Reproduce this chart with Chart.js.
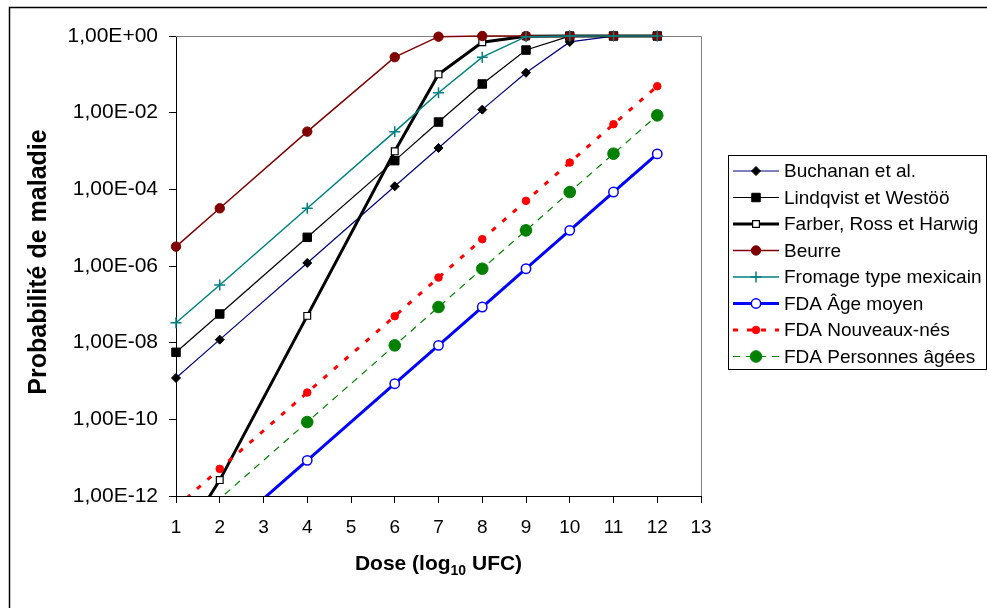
<!DOCTYPE html>
<html lang="fr">
<head>
  <meta charset="UTF-8">
  <title>Probabilité de maladie</title>
  <script src="https://cdn.jsdelivr.net/npm/chart.js"></script>
  <style>
    html, body {
      margin: 0;
      padding: 0;
      background: #fff;
    }
    .chart-container {
      position: relative;
      width: 987px;
      height: 608px;
    }
  </style>
</head>
<body>
  <div class="chart-container"><canvas id="chart"></canvas></div>

  <script>
    // doses (log10 UFC) where each model was evaluated
    const doses = [1, 2, 4, 6, 7, 8, 9, 10, 11, 12];

    const buchanan   = [1.2e-9, 1.2e-8, 1.2e-6, 1.2e-4, 1.2e-3, 1.2e-2, 0.11, 0.70, 0.99, 1];
    const lindqvist  = [5.6e-9, 5.6e-8, 5.6e-6, 5.6e-4, 5.7e-3, 0.056, 0.43, 0.996, 1, 1];
    const farber     = [4e-14, 2.6e-12, 5.0e-8, 9.8e-4, 0.10, 0.69, 0.99, 1, 1, 1];
    const beurre     = [3.2e-6, 3.2e-5, 3.2e-3, 0.28, 0.96, 1, 1, 1, 1, 1];
    const fromage    = [3.3e-8, 3.2e-7, 3.2e-5, 3.2e-3, 0.033, 0.28, 0.96, 1, 1, 1];
    const fdaMoyen   = [8.5e-15, 8.5e-14, 8.5e-12, 8.5e-10, 8.5e-9, 8.5e-8, 8.5e-7, 8.5e-6, 8.5e-5, 8.4e-4];
    const fdaNouveau = [5e-13, 5.1e-12, 5.0e-10, 4.9e-8, 5.0e-7, 5.0e-6, 5.0e-5, 5.0e-4, 5.0e-3, 0.049];
    const fdaAgees   = [8.5e-14, 8.5e-13, 8.5e-11, 8.5e-9, 8.5e-8, 8.5e-7, 8.5e-6, 8.5e-5, 8.5e-4, 8.5e-3];

    const seriesNames = [
      'Buchanan et al.',
      'Lindqvist et Westöö',
      'Farber, Ross et Harwig',
      'Beurre',
      'Fromage type mexicain',
      'FDA Âge moyen',
      'FDA Nouveaux-nés',
      'FDA Personnes âgées'
    ];
    const seriesValues = [buchanan, lindqvist, farber, beurre, fromage, fdaMoyen, fdaNouveau, fdaAgees];

    const yTickValues = [1e-12, 1e-10, 1e-8, 1e-6, 1e-4, 1e-2, 1];
    const xMin = 1, xMax = 13;

    // look of each series (Excel-like)
    const looks = [
      { line: '#000080', lw: 1.2, dash: [],     style: 'rectRot', r: 4.5, fill: '#000',    edge: '#000',    bw: 1 },
      { line: '#000000', lw: 1.2, dash: [],     style: 'rect',    r: 6,   fill: '#000',    edge: '#000',    bw: 1 },
      { line: '#000000', lw: 3,   dash: [],     style: 'rect',    r: 4.8, fill: '#fff',    edge: '#000',    bw: 1.2 },
      { line: '#800000', lw: 1.5, dash: [],     style: 'circle',  r: 4.7, fill: '#800000', edge: '#800000', bw: 1 },
      { line: '#008080', lw: 1.5, dash: [],     style: 'cross',   r: 5.5, fill: '#008080', edge: '#008080', bw: 1.5 },
      { line: '#0000ff', lw: 3,   dash: [],     style: 'circle',  r: 4.7, fill: '#fff',    edge: '#0000ff', bw: 1.5 },
      { line: '#ff0000', lw: 3,   dash: [5, 9], style: 'circle',  r: 3.8, fill: '#ff0000', edge: '#ff0000', bw: 1 },
      { line: '#008000', lw: 1.2, dash: [7, 6], style: 'circle',  r: 5.8, fill: '#008000', edge: '#008000', bw: 1 }
    ];

    const FONT = "'Liberation Sans', Arial, sans-serif";

    function sciLabel(v) {
      const e = Math.round(Math.log10(v));
      return '1,00E' + (e < 0 ? '-' : '+') + String(Math.abs(e)).padStart(2, '0');
    }

    function drawMarker(ctx, look, x, y) {
      const r = look.r;
      ctx.save();
      ctx.setLineDash([]);
      ctx.lineWidth = look.bw;
      ctx.strokeStyle = look.edge;
      ctx.fillStyle = look.fill;
      ctx.beginPath();
      if (look.style === 'circle') {
        ctx.arc(x, y, r, 0, Math.PI * 2);
        ctx.fill();
        ctx.stroke();
      } else if (look.style === 'rect') {
        const s = r * Math.SQRT1_2;
        ctx.rect(x - s, y - s, 2 * s, 2 * s);
        ctx.fill();
        ctx.stroke();
      } else if (look.style === 'rectRot') {
        ctx.moveTo(x - r, y);
        ctx.lineTo(x, y - r);
        ctx.lineTo(x + r, y);
        ctx.lineTo(x, y + r);
        ctx.closePath();
        ctx.fill();
        ctx.stroke();
      } else if (look.style === 'cross') {
        ctx.moveTo(x - r, y);
        ctx.lineTo(x + r, y);
        ctx.moveTo(x, y - r);
        ctx.lineTo(x, y + r);
        ctx.stroke();
      }
      ctx.restore();
    }

    // gray plot frame + black outer chart border
    const framePlugin = {
      id: 'frame',
      beforeDatasetsDraw(chart) {
        const { ctx, chartArea: a } = chart;
        ctx.save();
        ctx.strokeStyle = '#808080';
        ctx.lineWidth = 1;
        ctx.beginPath();
        ctx.moveTo(a.left, a.top + 0.5);
        ctx.lineTo(a.right + 0.5, a.top + 0.5);
        ctx.lineTo(a.right + 0.5, a.bottom);
        ctx.stroke();
        ctx.restore();
      },
      afterDraw(chart) {
        const ctx = chart.ctx;
        ctx.save();
        ctx.strokeStyle = '#000';
        ctx.lineWidth = 1.5;
        ctx.strokeRect(9.5, 7.5, 1000, 700);
        ctx.restore();
      }
    };

    // axis titles (x title needs a subscript)
    const titlesPlugin = {
      id: 'titles',
      afterDraw(chart) {
        const { ctx, chartArea: a } = chart;
        ctx.save();
        ctx.fillStyle = '#000';
        ctx.font = 'bold 25px ' + FONT;
        ctx.textAlign = 'center';
        ctx.textBaseline = 'middle';
        ctx.translate(39, 262);
        ctx.rotate(-Math.PI / 2);
        ctx.fillText('Probabilité de maladie', 0, 0);
        ctx.restore();

        const parts = [
          { t: 'Dose (log', size: 21, dy: 0 },
          { t: '10', size: 14, dy: 5 },
          { t: ' UFC)', size: 21, dy: 0 }
        ];
        ctx.save();
        ctx.fillStyle = '#000';
        ctx.textAlign = 'left';
        ctx.textBaseline = 'alphabetic';
        let total = 0;
        parts.forEach(p => {
          ctx.font = 'bold ' + p.size + 'px ' + FONT;
          p.w = ctx.measureText(p.t).width;
          total += p.w;
        });
        let x = (a.left + a.right) / 2 - total / 2;
        const base = 570;
        parts.forEach(p => {
          ctx.font = 'bold ' + p.size + 'px ' + FONT;
          ctx.fillText(p.t, x, base + p.dy);
          x += p.w;
        });
        ctx.restore();
      }
    };

    // boxed legend with line + marker samples
    const legendPlugin = {
      id: 'boxLegend',
      afterDraw(chart) {
        const ctx = chart.ctx;
        ctx.save();
        ctx.strokeStyle = '#000';
        ctx.lineWidth = 1;
        ctx.strokeRect(728.5, 155.5, 258, 214);
        ctx.font = '19px ' + FONT;
        ctx.textAlign = 'left';
        ctx.textBaseline = 'middle';
        seriesNames.forEach((name, i) => {
          const look = looks[i];
          const y = 171 + i * 26.5;
          ctx.save();
          ctx.strokeStyle = look.line;
          ctx.lineWidth = look.lw;
          ctx.setLineDash(look.dash);
          ctx.beginPath();
          ctx.moveTo(733, y);
          ctx.lineTo(779, y);
          ctx.stroke();
          ctx.restore();
          drawMarker(ctx, look, 756, y);
          ctx.fillStyle = '#000';
          ctx.fillText(name, 784, y + 1);
        });
        ctx.restore();
      }
    };

    const datasets = seriesValues.map((vals, i) => {
      const look = looks[i];
      return {
        label: seriesNames[i],
        data: doses.map((d, k) => ({ x: d, y: vals[k] })),
        borderColor: look.line,
        borderWidth: look.lw,
        borderDash: look.dash,
        pointStyle: look.style,
        pointRadius: c => (c.raw && c.raw.y < yTickValues[0] ? 0 : look.r),
        pointBackgroundColor: look.fill,
        pointBorderColor: look.edge,
        pointBorderWidth: look.bw,
        tension: 0,
        fill: false,
        order: 10 - i,
        clip: { left: 10, top: 10, right: 10, bottom: 0 }
      };
    });

    new Chart(document.getElementById('chart').getContext('2d'), {
      type: 'line',
      data: { datasets },
      options: {
        responsive: true,
        maintainAspectRatio: false,
        animation: false,
        events: [],
        layout: { padding: { left: 0, top: 36, right: 286, bottom: 0 } },
        plugins: {
          legend: { display: false },
          tooltip: { enabled: false },
          title: { display: false }
        },
        scales: {
          x: {
            type: 'linear',
            min: xMin,
            max: xMax,
            afterFit: s => { s.height = 112; },
            ticks: {
              stepSize: 1,
              autoSkip: false,
              maxRotation: 0,
              padding: 13,
              color: '#000',
              font: { size: 19, family: FONT }
            },
            grid: { drawOnChartArea: false, drawTicks: true, tickLength: 7, color: '#000' },
            border: { display: true, color: '#000', width: 1 }
          },
          y: {
            type: 'logarithmic',
            min: yTickValues[0],
            max: yTickValues[yTickValues.length - 1],
            afterBuildTicks: s => { s.ticks = yTickValues.map(v => ({ value: v })); },
            afterFit: s => { s.width = 176; },
            ticks: {
              autoSkip: false,
              padding: 11,
              color: '#000',
              font: { size: 21, family: FONT },
              callback: v => sciLabel(v)
            },
            grid: { drawOnChartArea: false, drawTicks: true, tickLength: 7, color: '#000' },
            border: { display: true, color: '#000', width: 1 }
          }
        }
      },
      plugins: [framePlugin, titlesPlugin, legendPlugin]
    });
  </script>
</body>
</html>
